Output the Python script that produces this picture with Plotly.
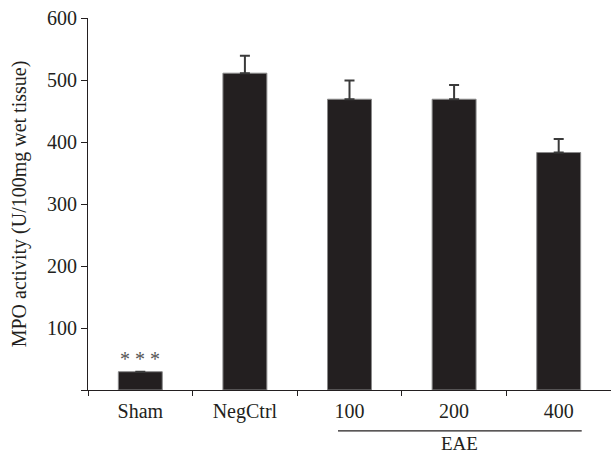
import plotly.graph_objects as go

categories = ["Sham", "NegCtrl", "100", "200", "400"]
values = [29.5, 511, 469, 469, 383]
errors = [None, 28, 30, 23, 22]
sig_labels = ["* * *", "", "", "", "*"]
y_ticks = [0, 100, 200, 300, 400, 500, 600]
y_tick_text = ["", "100", "200", "300", "400", "500", "600"]
group_label = "EAE"

FONT = "Liberation Serif, Times New Roman, serif"
FS = 20

fig = go.Figure()
fig.add_trace(go.Bar(
    x=categories, y=values,
    width=0.42,
    marker=dict(color="#231f20", line=dict(color="#8a8a8a", width=1)),
    error_y=dict(type="data", symmetric=False, array=errors,
                 arrayminus=[0] * len(errors), visible=True, color="#3a3a3a",
                 thickness=2, width=5),
    showlegend=False,
))

for c, v, e, s in zip(categories, values, errors, sig_labels):
    if s:
        fig.add_annotation(x=c, y=v + (e or 0), text=s, showarrow=False,
                           yanchor="bottom", yshift=0,
                           font=dict(family=FONT, size=20, color="#555"))

fig.add_shape(type="line", xref="x", yref="paper", x0=1.89, x1=4.22,
              y0=-0.110, y1=-0.110, line=dict(color="#231f20", width=1.2))
fig.add_annotation(x=3.05, xref="x", y=-0.143, yref="paper", text=group_label,
                   showarrow=False, yanchor="middle",
                   font=dict(family=FONT, size=FS - 1, color="#231f20"))

fig.update_layout(
    width=611, height=454,
    margin=dict(l=88, r=0, t=18, b=64),
    plot_bgcolor="white", paper_bgcolor="white",
    font=dict(family=FONT, size=FS, color="#231f20"),
)
fig.update_xaxes(
    type="category", range=[-0.5, 4.5], automargin=False,
    showline=True, linecolor="#231f20", linewidth=1.2,
    ticks="outside", tickson="boundaries", ticklen=5, tickcolor="#231f20",
    showgrid=False, zeroline=False, ticklabelstandoff=3,
    tickfont=dict(family=FONT, size=FS),
)
fig.update_yaxes(
    range=[0, 600], tickvals=y_ticks, ticktext=y_tick_text, automargin=False,
    showline=True, linecolor="#231f20", linewidth=1.2,
    ticks="outside", ticklen=6, tickcolor="#231f20",
    showgrid=False, zeroline=False,
    title=dict(text="MPO activity (U/100mg wet tissue)", standoff=14,
               font=dict(family=FONT, size=FS)),
    tickfont=dict(family=FONT, size=FS),
)

fig.write_html(
    "out.html",
    config={"displayModeBar": False},
    post_script="document.body.style.margin='0';document.body.style.overflow='hidden';",
)
